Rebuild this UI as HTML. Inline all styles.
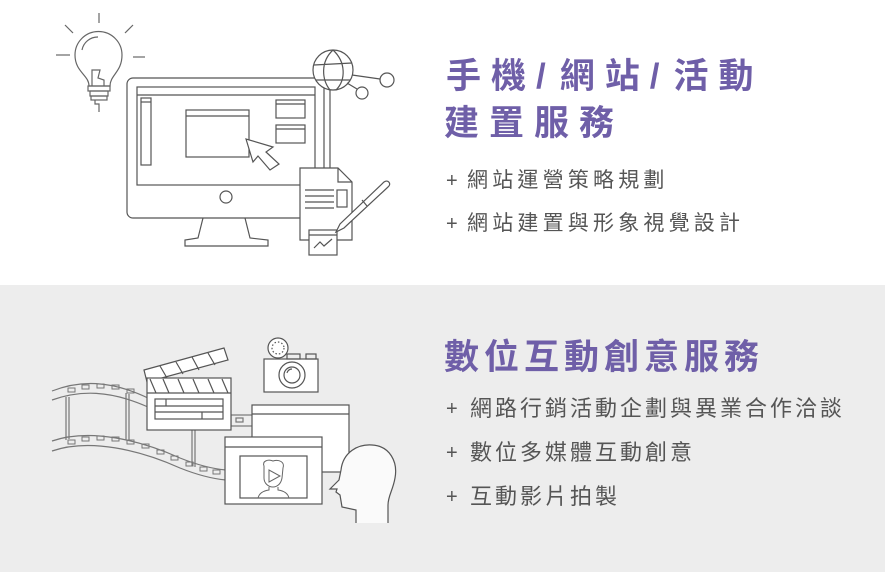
<!DOCTYPE html>
<html><head><meta charset="utf-8"><style>
body{margin:0;width:885px;height:572px;overflow:hidden;background:#fff;font-family:"Liberation Sans","Noto Sans CJK TC",sans-serif;position:relative}
.bot{position:absolute;left:0;top:285px;width:885px;height:287px;background:#ededed}
.t{position:absolute;color:#6f5fa8;font-size:35px;font-weight:bold;line-height:1;white-space:nowrap}
.i{position:absolute;color:#555;font-size:20px;line-height:1;white-space:nowrap}
.p{position:absolute;color:#555;font-size:20px;line-height:1;font-weight:300}
svg{position:absolute;left:0;top:0}
</style></head><body>
<div class="bot"></div>
<svg width="885" height="572" fill="none" stroke="#555" stroke-width="1.2">
<g stroke="#666">
<line x1="99" y1="13" x2="99" y2="23"/><line x1="65" y1="25" x2="73" y2="33"/><line x1="125" y1="33" x2="133" y2="25"/>
<line x1="56" y1="55" x2="70" y2="55"/><line x1="133" y1="57" x2="145" y2="57"/>
<path d="M89 86 C89 75 75 72 75 55 A23 23 0 0 1 122 55 C122 72 110 75 110 86 Z"/>
<path d="M82 50 A16 16 0 0 1 98 37"/>
<path d="M92 86 L92 70 L100 70 L98 78 L104 80 L104 86"/>
<rect x="88" y="86" width="22" height="5"/><rect x="90" y="91" width="18" height="5"/><rect x="91" y="96" width="16" height="4"/>
<path d="M95 100 L95 104 L99 104 L99 112"/>
</g>
<rect x="127" y="78" width="203" height="140" rx="6" fill="#fff"/>
<line x1="324" y1="80" x2="324" y2="215"/>
<rect x="137" y="87" width="178" height="98"/><line x1="137" y1="95" x2="315" y2="95"/>
<rect x="141" y="98" width="10" height="67"/><line x1="141" y1="102" x2="151" y2="102"/>
<rect x="186" y="110" width="63" height="47"/><line x1="186" y1="116" x2="249" y2="116"/>
<rect x="276" y="100" width="29" height="18"/><line x1="276" y1="104" x2="305" y2="104"/>
<rect x="276" y="125" width="29" height="18"/><line x1="276" y1="129" x2="305" y2="129"/>
<path d="M246 139 L253 162 L258 156 L270 170 L279 164 L266 152 L273 147 Z" fill="#fff"/>
<circle cx="226" cy="197" r="6"/>
<path d="M203 218 L198 238 L185 240 L185 246 L268 246 L268 240 L250 238 L245 218"/>
<circle cx="333" cy="70" r="20" fill="#fff"/>
<path d="M333 50 C320 62 322 80 330 90 M333 50 C346 62 346 80 336 90 M314 65 L352 63 M316 80 L350 80"/>
<line x1="352" y1="75" x2="380" y2="79"/><line x1="347" y1="83" x2="357" y2="89"/>
<circle cx="387" cy="80" r="7"/><circle cx="362" cy="93" r="6"/>
<path d="M300 168 L338 168 L352 182 L352 240 L300 240 Z" fill="#fff"/>
<path d="M338 168 L338 182 L352 182"/>
<line x1="305" y1="190" x2="334" y2="190"/><line x1="305" y1="196" x2="334" y2="196"/><line x1="305" y1="202" x2="334" y2="202"/><line x1="305" y1="208" x2="334" y2="208"/>
<rect x="337" y="190" width="10" height="17"/>
<rect x="309" y="230" width="28" height="25" fill="#fff"/><line x1="309" y1="235" x2="337" y2="235"/>
<path d="M314 248 L320 242 L324 246 L332 239"/>
<path d="M336 232 L340 224 L384 182 C388 179 392 184 388 187 L344 228 Z" fill="#fff"/><line x1="362" y1="200" x2="367" y2="206"/>
<g stroke="#777" fill="none">
<path d="M52 391 C80 380 110 380 148 398"/><path d="M52 400 C80 390 110 390 148 407"/>
<path d="M52 441 C90 428 140 440 180 458 C200 466 215 469 226 470"/><path d="M52 451 C90 438 140 450 180 468 C200 476 215 479 226 480"/>
<line x1="66" y1="397" x2="66" y2="440"/><line x1="69" y1="397" x2="69" y2="439"/>
<line x1="126" y1="393" x2="126" y2="440"/><line x1="129" y1="394" x2="129" y2="441"/>
<line x1="192" y1="430" x2="192" y2="466"/><line x1="195" y1="430" x2="195" y2="467"/>
<g stroke-width="1">
<rect x="68" y="388" width="7" height="4"/><rect x="82" y="385" width="7" height="4"/><rect x="97" y="384" width="7" height="4"/><rect x="112" y="385" width="7" height="4"/><rect x="127" y="389" width="7" height="4"/>
<rect x="68" y="440" width="7" height="4"/><rect x="82" y="437" width="7" height="4"/><rect x="97" y="436" width="7" height="4"/><rect x="112" y="437" width="7" height="4"/><rect x="127" y="440" width="7" height="4"/><rect x="142" y="444" width="7" height="4"/><rect x="157" y="450" width="7" height="4"/><rect x="171" y="456" width="7" height="4"/><rect x="186" y="462" width="7" height="4"/><rect x="200" y="467" width="7" height="4"/><rect x="213" y="470" width="7" height="4"/>
</g>
<rect x="231" y="415" width="22" height="11" fill="#eee"/><rect x="236" y="418" width="7" height="4"/>
</g>
<path d="M144 370 L224 348 L228 360 L147 382 Z" fill="#fff"/>
<rect x="147" y="378" width="84" height="52" fill="#fff"/><line x1="147" y1="393" x2="231" y2="393"/>
<path d="M150 379 L156 393 M163 379 L169 393 M178 379 L184 393 M193 379 L199 393 M208 379 L214 393 M222 379 L228 393"/>
<path d="M160 366 L167 378 M176 362 L183 374 M192 357 L199 370 M208 353 L215 365"/>
<rect x="155" y="399" width="68" height="20"/><line x1="155" y1="406" x2="223" y2="406"/><line x1="166" y1="399" x2="166" y2="406"/><line x1="155" y1="412" x2="223" y2="412"/><line x1="202" y1="412" x2="202" y2="419"/>
<rect x="264" y="359" width="54" height="33" fill="#fff"/>
<circle cx="292" cy="375" r="13"/><circle cx="292" cy="375" r="8"/><path d="M287 373 A5 5 0 0 1 292 369"/>
<circle cx="278" cy="348" r="10" fill="#fff"/><circle cx="278" cy="348" r="6" stroke-dasharray="1.5 2"/>
<rect x="287" y="354" width="13" height="5"/><rect x="306" y="354" width="10" height="5"/>
<rect x="252" y="405" width="97" height="67" fill="#fff"/><line x1="252" y1="414" x2="349" y2="414"/>
<rect x="225" y="437" width="97" height="67" fill="#fff"/><line x1="225" y1="447" x2="322" y2="447"/>
<rect x="240" y="456" width="67" height="42"/>
<g stroke-width="1" stroke="#666">
<path d="M264 466 C262 461 268 459 273 461 C279 459 285 462 283 468 L282 478 C281 484 277 487 273 487 C268 487 264 483 264 478 Z"/>
<path d="M269 487 L269 490 C262 491 259 494 258 498 M278 487 L278 490 C285 491 288 494 289 498"/>
<path d="M269 470 L269 482 L280 476 Z"/>
</g>
<path d="M356 523 L356 510 L342 507 L340 495 L336 492 L337 489 L330 489 L339 480 L341 470 C343 452 358 444 372 445 C390 446 398 462 395 478 C393 490 388 496 388 505 L388 523" fill="#fafafa"/>
</svg>
<div class="t" style="left:446px;top:59px;letter-spacing:10px">手機<span style="letter-spacing:14px">/</span>網站<span style="letter-spacing:14px">/</span>活動</div>
<div class="t" style="left:444px;top:106px;letter-spacing:10px">建置服務</div>
<div class="p" style="left:446px;top:171px">+</div><div class="i" style="left:467px;top:170px;font-size:21px;letter-spacing:4.2px">網站運營策略規劃</div>
<div class="p" style="left:446px;top:214px">+</div><div class="i" style="left:467px;top:213px;font-size:21px;letter-spacing:4.2px">網站建置與形象視覺設計</div>
<div class="t" style="left:444px;top:340px;letter-spacing:5px">數位互動創意服務</div>
<div class="p" style="left:446px;top:399px">+</div><div class="i" style="left:470px;top:398px;font-size:22px;letter-spacing:3px">網路行銷活動企劃與異業合作洽談</div>
<div class="p" style="left:446px;top:443px">+</div><div class="i" style="left:470px;top:442px;font-size:22px;letter-spacing:3px">數位多媒體互動創意</div>
<div class="p" style="left:446px;top:487px">+</div><div class="i" style="left:470px;top:486px;font-size:22px;letter-spacing:3px">互動影片拍製</div>
</body></html>
